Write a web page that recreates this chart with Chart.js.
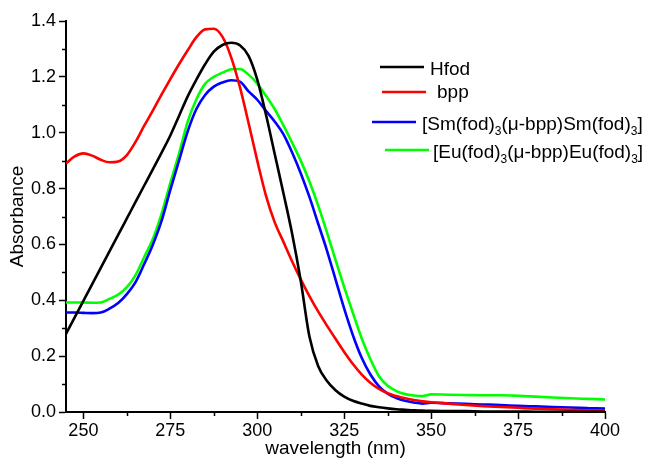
<!DOCTYPE html>
<html>
<head>
<meta charset="utf-8">
<script src="https://cdn.jsdelivr.net/npm/chart.js@4.4.1/dist/chart.umd.min.js"></script>
<style>
  html, body { margin: 0; padding: 0; background: #fff; }
  #wrap { width: 649px; height: 460px; }
</style>
</head>
<body>
<div id="wrap"><canvas id="c" width="649" height="460"></canvas></div>
<script>
// ---- data ----
const wavelength = [245,247.5,250,252.5,255,257.5,260,262.5,265,267.5,270,272.5,275,277.5,280,282.5,285,287.5,290,292.5,295,297.5,300,302.5,305,307.5,310,312.5,315,317.5,320,322.5,325,327.5,330,332.5,335,337.5,340,342.5,345,347.5,350,355,360,365,370,375,380,385,390,395,400];
const hfod = [0.28,0.339,0.398,0.457,0.516,0.575,0.634,0.693,0.752,0.811,0.87,0.929,0.99,1.06,1.13,1.19,1.245,1.29,1.314,1.322,1.313,1.275,1.19,1.065,0.925,0.785,0.64,0.47,0.27,0.165,0.112,0.078,0.055,0.04,0.03,0.022,0.017,0.013,0.01,0.008,0.006,0.005,0.004,0.003,0.003,0.002,0.002,0.002,0.001,0.001,0.001,0.001,0.001];
const bpp = [0.89,0.915,0.926,0.918,0.903,0.894,0.897,0.92,0.967,1.025,1.08,1.137,1.192,1.245,1.295,1.342,1.37,1.372,1.343,1.27,1.164,1.035,0.9,0.775,0.68,0.61,0.54,0.475,0.415,0.36,0.31,0.262,0.215,0.172,0.135,0.105,0.083,0.067,0.057,0.049,0.043,0.038,0.035,0.03,0.025,0.021,0.018,0.015,0.012,0.01,0.008,0.006,0.005];
const smComplex = [0.356,0.356,0.355,0.354,0.356,0.37,0.39,0.422,0.465,0.53,0.60,0.685,0.795,0.9,1.005,1.085,1.135,1.165,1.18,1.188,1.183,1.148,1.118,1.078,1.04,0.995,0.93,0.855,0.77,0.675,0.58,0.475,0.37,0.275,0.195,0.135,0.092,0.066,0.05,0.04,0.034,0.03,0.033,0.031,0.029,0.027,0.025,0.022,0.02,0.018,0.016,0.014,0.012];
const euComplex = [0.392,0.392,0.392,0.391,0.392,0.405,0.42,0.447,0.49,0.555,0.62,0.71,0.82,0.925,1.04,1.12,1.175,1.2,1.215,1.227,1.228,1.208,1.176,1.132,1.085,1.027,0.965,0.9,0.825,0.74,0.645,0.545,0.447,0.355,0.265,0.19,0.128,0.094,0.075,0.064,0.059,0.057,0.063,0.062,0.061,0.06,0.06,0.058,0.055,0.052,0.049,0.047,0.045];

const xTicks = [250,275,300,325,350,375,400];
const xMinorTicks = [262.5,287.5,312.5,337.5,362.5,387.5];
const yTicks = [0,0.2,0.4,0.6,0.8,1.0,1.2,1.4];
const yMinorTicks = [0.1,0.3,0.5,0.7,0.9,1.1,1.3];

// legend labels as [text, isSubscript] runs
const legendLabels = [
  [["Hfod", false]],
  [["bpp", false]],
  [["[Sm(fod)", false], ["3", true], ["(\u03bc-bpp)Sm(fod)", false], ["3", true], ["]", false]],
  [["[Eu(fod)", false], ["3", true], ["(\u03bc-bpp)Eu(fod)", false], ["3", true], ["]", false]]
];
const seriesColors = ["#000000", "#ff0000", "#0000ff", "#00ff00"];

// ---- chart ----
const FONT = "'Liberation Sans', Arial, Helvetica, sans-serif";
const toPts = ys => wavelength.map((x, i) => ({x: x, y: ys[i]}));
const seriesValues = [hfod, bpp, smComplex, euComplex];

const datasets = seriesValues.map((ys, i) => ({
  label: legendLabels[i].map(r => r[0]).join(""),
  data: toPts(ys),
  borderColor: seriesColors[i],
  backgroundColor: seriesColors[i],
  borderWidth: 2.6,
  pointRadius: 0,
  fill: false,
  cubicInterpolationMode: 'monotone'
}));

const minorTicksPlugin = {
  id: 'minorTicks',
  afterDraw(chart) {
    const ctx = chart.ctx;
    const xs = chart.scales.x, ys = chart.scales.y;
    const area = chart.chartArea;
    ctx.save();
    ctx.strokeStyle = '#000';
    ctx.lineWidth = 1.5;
    ctx.beginPath();
    xMinorTicks.forEach(v => {
      const px = Math.round(xs.getPixelForValue(v)) + 0.5;
      ctx.moveTo(px, area.bottom);
      ctx.lineTo(px, area.bottom + 4);
    });
    yMinorTicks.forEach(v => {
      const py = Math.round(ys.getPixelForValue(v)) + 0.5;
      ctx.moveTo(area.left, py);
      ctx.lineTo(area.left - 4, py);
    });
    ctx.stroke();
    ctx.restore();
  }
};

const legendPlugin = {
  id: 'customLegend',
  afterDraw(chart) {
    const ctx = chart.ctx;
    const layout = [
      {x1: 380, x2: 424, ly: 67, tx: 430, by: 75},
      {x1: 382, x2: 426, ly: 92, tx: 437, by: 98},
      {x1: 372, x2: 416, ly: 122, tx: 422, by: 130},
      {x1: 385, x2: 429, ly: 150, tx: 433, by: 158}
    ];
    ctx.save();
    legendLabels.forEach((runs, i) => {
      const L = layout[i];
      ctx.strokeStyle = seriesColors[i];
      ctx.lineWidth = 2.6;
      ctx.beginPath();
      ctx.moveTo(L.x1, L.ly);
      ctx.lineTo(L.x2, L.ly);
      ctx.stroke();
      let x = L.tx;
      ctx.fillStyle = '#000';
      ctx.textBaseline = 'alphabetic';
      ctx.textAlign = 'left';
      runs.forEach(([t, sub]) => {
        ctx.font = (sub ? '12px ' : '19px ') + FONT;
        ctx.fillText(t, x, L.by + (sub ? 5 : 0));
        x += ctx.measureText(t).width;
      });
    });
    ctx.restore();
  }
};

new Chart(document.getElementById('c'), {
  type: 'line',
  data: { datasets: datasets },
  options: {
    responsive: false,
    devicePixelRatio: 1,
    animation: false,
    events: [],
    layout: { padding: { top: 21, right: 44, left: 0, bottom: 0 } },
    plugins: { legend: { display: false }, tooltip: { enabled: false } },
    scales: {
      x: {
        type: 'linear',
        min: 245,
        max: 400,
        afterBuildTicks: s => { s.ticks = xTicks.map(v => ({value: v})); },
        afterFit: s => { s.height = 48; },
        border: { display: true, color: '#000', width: 2 },
        grid: { display: true, drawOnChartArea: false, drawTicks: true, tickLength: 7, tickWidth: 1.5, tickColor: '#000' },
        ticks: { color: '#000', font: { family: FONT, size: 18 }, padding: 1, maxRotation: 0, autoSkip: false,
                 callback: v => String(v) },
        title: { display: true, text: 'wavelength (nm)', color: '#000', font: { family: FONT, size: 19 }, padding: { top: 0, bottom: 0 } }
      },
      y: {
        min: 0,
        max: 1.4,
        afterBuildTicks: s => { s.ticks = yTicks.map(v => ({value: v})); },
        afterFit: s => { s.width = 66; },
        border: { display: true, color: '#000', width: 2 },
        grid: { display: true, drawOnChartArea: false, drawTicks: true, tickLength: 7, tickWidth: 1.5, tickColor: '#000' },
        ticks: { color: '#000', font: { family: FONT, size: 18 }, padding: 3, autoSkip: false,
                 callback: v => Number(v).toFixed(1) },
        title: { display: true, text: 'Absorbance', color: '#000', font: { family: FONT, size: 19 }, padding: { top: 6, bottom: 0 } }
      }
    }
  },
  plugins: [minorTicksPlugin, legendPlugin]
});
</script>
</body>
</html>
